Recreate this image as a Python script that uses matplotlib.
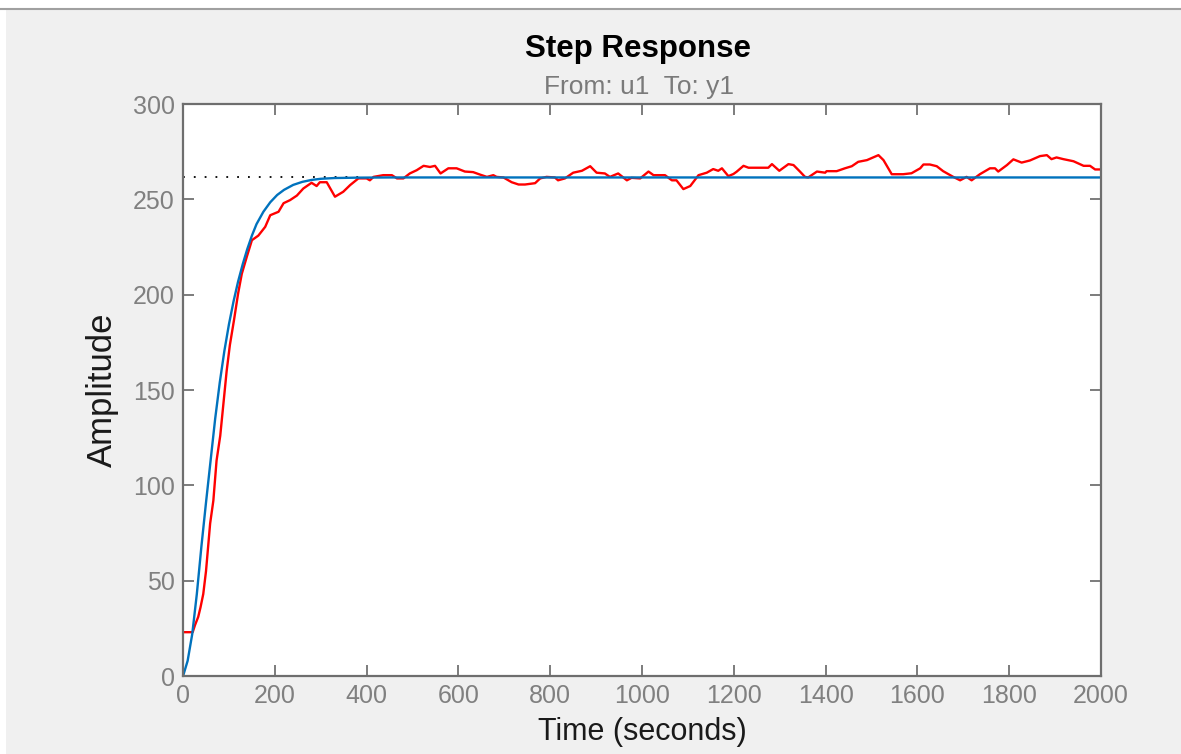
import matplotlib
matplotlib.use('Agg')
import matplotlib.pyplot as plt
from matplotlib.patches import Rectangle
from matplotlib.lines import Line2D

plt.rcParams['font.family'] = ['Liberation Sans', 'DejaVu Sans']

# model step response (blue)
t_model = [0, 10, 20, 30, 40, 50, 60, 70, 80, 90, 100, 110, 120, 130, 140,
           150, 160, 175, 190, 205, 220, 240, 260, 280, 300, 330, 380, 450,
           2000]
y_model = [0, 8, 22, 43, 68, 91, 113, 135, 154, 170.5, 184.5, 196.5, 207,
           216, 224, 231, 237, 243.5, 248.5, 252.3, 255, 257.6, 259.2, 260.2,
           260.8, 261.2, 261.4, 261.5, 261.5]

# measured output (red)
t_meas = [0, 21, 26, 33, 38, 44, 50, 59, 66, 73, 81, 88, 95, 102, 111, 120,
          128, 139, 150, 164, 179, 190, 208, 219, 233, 248, 262, 280, 291,
          298, 313, 331, 349, 364, 382, 400, 407, 415, 436, 455, 466, 480,
          494, 509, 524, 538, 549, 561, 578, 596, 614, 632, 647, 662, 676,
          683, 698, 716, 731, 745, 767, 778, 792, 810, 817, 832, 850, 869,
          887, 901, 919, 930, 948, 967, 977, 996, 1014, 1025, 1050, 1065,
          1075, 1090, 1105, 1123, 1141, 1155, 1166, 1174, 1188, 1199, 1206,
          1221, 1232, 1275, 1283, 1299, 1319, 1330, 1344, 1355, 1362, 1381,
          1399, 1402, 1424, 1442, 1457, 1471, 1490, 1515, 1526, 1544, 1569,
          1587, 1606, 1613, 1627, 1642, 1656, 1678, 1693, 1707, 1718, 1736,
          1758, 1769, 1776, 1795, 1809, 1827, 1845, 1867, 1882, 1892, 1903,
          1918, 1940, 1962, 1976, 1987, 2000]
y_meas = [23, 23, 26.7, 31, 36, 43, 55, 80, 92, 113, 126, 143, 160, 173.6,
          186.7, 200.7, 211, 220, 228.6, 231, 235.6, 241.7, 243.5, 248,
          249.6, 252, 255.7, 258.7, 257, 259, 259, 251.4, 254, 257.5, 261,
          261, 260, 261.8, 262.7, 262.7, 261, 261, 263.6, 265.3, 267.6, 267,
          267.6, 263.6, 266.3, 266.3, 264.6, 264.3, 263, 261.8, 262.7, 261.8,
          261.5, 259, 257.8, 257.8, 258.5, 261, 261.8, 261.5, 260, 261, 264,
          265, 267.4, 264, 263.6, 261.8, 263.6, 260, 261.3, 261, 264.6, 262.7,
          262.7, 260, 260, 255.4, 257, 262.7, 264, 265.9, 265, 266.3, 262.2,
          263.3, 264.5, 267.6, 266.6, 266.6, 268.5, 265, 268.5, 268, 264.6,
          261.8, 261.5, 264.6, 264, 264.8, 264.8, 266.3, 267.4, 269.7, 270.6,
          273.2, 270.6, 263.2, 263.2, 263.7, 266.3, 268.3, 268.3, 267.4,
          264.8, 261.8, 260, 261.8, 260, 263.2, 266.3, 266.3, 264.6, 268, 271,
          269.3, 270.4, 272.7, 273.2, 271.1, 272, 271.1, 270, 267.6, 267.6,
          265.7, 265.7]

final_value = 261.5
settle_t = 400

xticks = [0, 200, 400, 600, 800, 1000, 1200, 1400, 1600, 1800, 2000]
yticks = [0, 50, 100, 150, 200, 250, 300]

fig = plt.figure(figsize=(11.81, 7.54), dpi=100, facecolor='#f0f0f0')
# white strips at the window edges
fig.patches.append(Rectangle((0, 0.988), 1, 0.012, transform=fig.transFigure,
                             facecolor='white', edgecolor='none'))
fig.patches.append(Rectangle((0, 0), 0.005, 1, transform=fig.transFigure,
                             facecolor='white', edgecolor='none'))
fig.lines.append(Line2D([0, 1], [0.988, 0.988], transform=fig.transFigure,
                        color='#a0a0a0', lw=1.5))

ax = fig.add_axes([0.155, 0.1034, 0.7773, 0.7586])
ax.set_facecolor('white')

ax.plot([0, settle_t], [final_value, final_value], color='black', lw=1.3,
        linestyle=(0, (1, 5)))
ax.plot(t_meas, y_meas, color='#ff0000', lw=1.7)
ax.plot(t_model, y_model, color='#0072bd', lw=1.7)

ax.set_xlim(0, 2000)
ax.set_ylim(0, 300)
ax.set_xticks(xticks)
ax.set_yticks(yticks)
ax.tick_params(direction='in', length=8, width=1.2, colors='#666666',
               labelcolor='#808080', labelsize=18, top=True, right=True,
               pad=6)
for s in ax.spines.values():
    s.set_color('#6e6e6e')
    s.set_linewidth(1.6)

ax.set_xlabel('Time (seconds)', fontsize=22, color='#1a1a1a', labelpad=6)
ax.set_ylabel('Amplitude', fontsize=25, color='#1a1a1a', labelpad=10)

fig.text(0.54, 0.935, 'Step Response', ha='center', va='center',
         fontsize=22.5, fontweight='bold', color='black')
fig.text(0.541, 0.884, 'From: u1  To: y1', ha='center', va='center',
         fontsize=19, color='#7a7a7a')

fig.savefig('out.png', dpi=100, facecolor=fig.get_facecolor())
